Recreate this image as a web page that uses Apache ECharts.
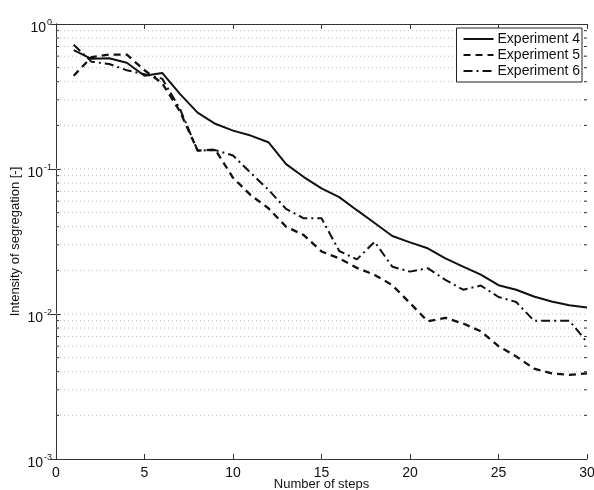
<!DOCTYPE html>
<html>
<head>
<meta charset="utf-8">
<script src="https://cdn.jsdelivr.net/npm/echarts@6/dist/echarts.min.js"></script>
<style>
  html, body { margin: 0; padding: 0; background: #fff; }
  #chart { width: 594px; height: 490px; }
</style>
</head>
<body>
<div id="chart"></div>
<script>
// Steps along the x axis
const steps = [1,2,3,4,5,6,7,8,9,10,11,12,13,14,15,16,17,18,19,20,21,22,23,24,25,26,27,28,29,30];

// Intensity of segregation per step
const exp4 = [0.66,0.575,0.58,0.54,0.44,0.46,0.33,0.245,0.205,0.184,0.17,0.153,0.108,0.088,0.0735,0.064,0.052,0.0424,0.0345,0.0312,0.0284,0.0242,0.0212,0.0187,0.0158,0.0147,0.0132,0.0122,0.0115,0.0111];
const exp5 = [0.44,0.59,0.615,0.615,0.48,0.39,0.25,0.134,0.136,0.087,0.066,0.0536,0.04,0.035,0.027,0.0242,0.0208,0.0186,0.0158,0.0119,0.0089,0.0094,0.0086,0.0076,0.006,0.0051,0.0042,0.0039,0.0038,0.0039];
const exp6 = [0.72,0.55,0.53,0.48,0.45,0.42,0.26,0.134,0.135,0.124,0.094,0.072,0.053,0.0457,0.0457,0.0272,0.0238,0.0315,0.0212,0.0196,0.0207,0.0172,0.0147,0.0157,0.0131,0.0121,0.009,0.009,0.009,0.0064];

// Grid positions on the log axis: decades plus 2..9 inside each decade
const decades = [0.001, 0.01, 0.1, 1];
const minorGrid = [];
[0.001, 0.01, 0.1].forEach(d => { for (let k = 2; k <= 9; k++) minorGrid.push(d * k); });
const gridRows = minorGrid.map(v => [v, 1]).concat(decades.slice(1, 3).map(v => [v, 0]));

const FONT = 'Liberation Sans, Arial, Helvetica, sans-serif';
const chart = echarts.init(document.getElementById('chart'), null, { renderer: 'canvas' });

function pairs(ys) { return steps.map((x, i) => [x, ys[i]]); }

const lineBase = { type: 'line', symbol: 'none', showSymbol: false, silent: true, animation: false, z: 5 };

const option = {
  animation: false,
  backgroundColor: '#ffffff',
  grid: { left: 56, right: 7, top: 24, bottom: 31, containLabel: false, outerBoundsMode: 'none' },
  legend: {
    right: 12, top: 28,
    orient: 'vertical',
    backgroundColor: '#ffffff',
    borderColor: '#222', borderWidth: 1,
    padding: [3, 2, 3, 6],
    itemWidth: 30, itemHeight: 8, itemGap: 0,
    itemStyle: { opacity: 0, borderWidth: 0 },
    textStyle: { fontFamily: FONT, fontSize: 14, color: '#111', lineHeight: 16, padding: [0, 0, 0, -1] },
    data: ['Experiment 4', 'Experiment 5', 'Experiment 6']
  },
  xAxis: [{
    type: 'value', min: 0, max: 30, interval: 5,
    name: 'Number of steps', nameLocation: 'middle', nameGap: 19, nameMoveOverlap: false,
    nameTextStyle: { fontFamily: FONT, fontSize: 13, color: '#111' },
    axisLine: { lineStyle: { color: '#333', width: 1 } },
    axisTick: { inside: true, length: 5, lineStyle: { color: '#333' } },
    axisLabel: { fontFamily: FONT, fontSize: 14, color: '#111', margin: 7 },
    splitLine: { show: false }
  }, {
    type: 'value', min: 0, max: 30, interval: 5, position: 'top',
    axisLine: { lineStyle: { color: '#333', width: 1 } },
    axisTick: { inside: true, length: 5, lineStyle: { color: '#333' } },
    axisLabel: { show: false }, splitLine: { show: false }
  }],
  yAxis: [{
    type: 'log', logBase: 10, min: 0.001, max: 1,
    name: 'Intensity of segregation [-]', nameLocation: 'middle', nameGap: 34, nameMoveOverlap: false,
    nameTextStyle: { fontFamily: FONT, fontSize: 13, color: '#111' },
    axisLine: { lineStyle: { color: '#333', width: 1 } },
    axisTick: { inside: true, length: 5, lineStyle: { color: '#333' } },
    axisLabel: {
      fontFamily: FONT, fontSize: 14, color: '#111', margin: 4,
      padding: [8, 0, 0, 0],
      formatter: v => '10{e|' + Math.round(Math.log10(v)) + '}',
      rich: { e: { fontFamily: FONT, fontSize: 9, color: '#111', padding: [0, 0, 10, 1] } }
    },
    splitLine: { show: false }
  }, {
    type: 'log', logBase: 10, min: 0.001, max: 1, position: 'right',
    axisLine: { lineStyle: { color: '#333', width: 1 } },
    axisTick: { inside: true, length: 5, lineStyle: { color: '#333' } },
    axisLabel: { show: false }, splitLine: { show: false }
  }],
  series: [
    {
      // dotted horizontal grid, with short minor ticks on both sides
      type: 'custom', silent: true, z: 1,
      data: gridRows,
      encode: { y: 0 },
      renderItem: (params, api) => {
        const v = api.value(0);
        const isMinor = api.value(1) === 1;
        const a = api.coord([0, v]);
        const b = api.coord([30, v]);
        const kids = [
          { type: 'line', shape: { x1: a[0], y1: a[1], x2: b[0], y2: b[1] },
            style: { stroke: '#bcbcbc', lineWidth: 1, lineDash: [1, 3] } }
        ];
        if (isMinor) {
          kids.push({ type: 'line', shape: { x1: a[0], y1: a[1], x2: a[0] + 3, y2: a[1] },
            style: { stroke: '#333', lineWidth: 1 } });
          kids.push({ type: 'line', shape: { x1: b[0] - 3, y1: b[1], x2: b[0], y2: b[1] },
            style: { stroke: '#333', lineWidth: 1 } });
        }
        return { type: 'group', children: kids };
      }
    },
    Object.assign({}, lineBase, {
      name: 'Experiment 4', data: pairs(exp4),
      lineStyle: { color: '#111', width: 2, type: 'solid' },
      itemStyle: { color: '#111' }
    }),
    Object.assign({}, lineBase, {
      name: 'Experiment 5', data: pairs(exp5),
      lineStyle: { color: '#111', width: 2.3, type: [7, 5] },
      itemStyle: { color: '#111' }
    }),
    Object.assign({}, lineBase, {
      name: 'Experiment 6', data: pairs(exp6),
      lineStyle: { color: '#111', width: 2, type: [9, 4, 2, 4] },
      itemStyle: { color: '#111' }
    })
  ]
};

chart.setOption(option);
</script>
</body>
</html>
